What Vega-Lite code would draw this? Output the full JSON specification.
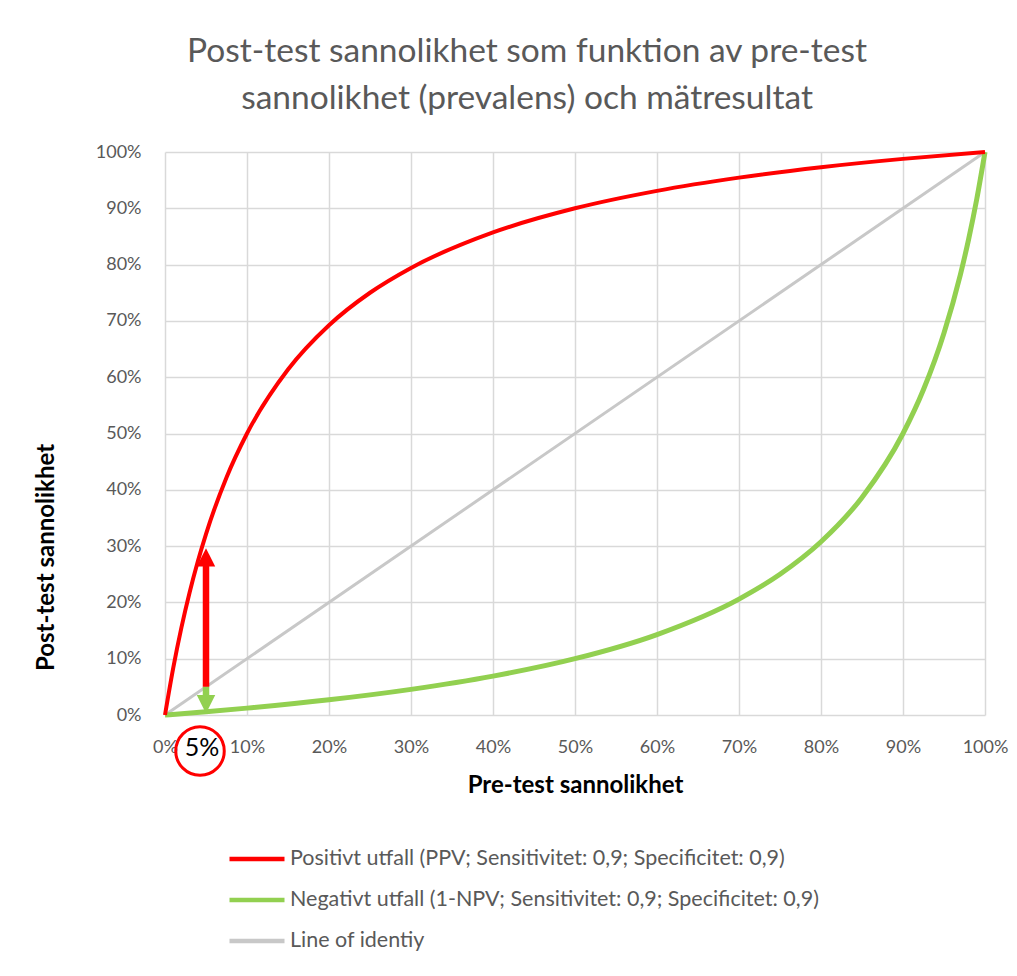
{
  "$schema": "https://vega.github.io/schema/vega-lite/v6.json",
  "width": 820,
  "height": 563,
  "autosize": "none",
  "padding": {"left": 165, "top": 152, "right": 32, "bottom": 261},
  "background": "white",
  "config": {
    "font": "Lato",
    "view": {"stroke": null}
  },
  "title": {
    "text": ["Post-test sannolikhet som funktion av pre-test", "sannolikhet (prevalens) och mätresultat"],
    "fontSize": 33.5,
    "fontWeight": "normal",
    "font": "Lato",
    "color": "#595959",
    "lineHeight": 47,
    "anchor": "middle",
    "dx": -48,
    "offset": 26
  },
  "datasets": {
    "curves": [
      {"p": 0, "v": 0, "serie": "Line of identiy"},
      {"p": 1, "v": 1, "serie": "Line of identiy"},
      {"p": 0, "v": 0, "serie": "Positivt utfall (PPV; Sensitivitet: 0,9; Specificitet: 0,9)"},
      {"p": 0.01, "v": 0.0833, "serie": "Positivt utfall (PPV; Sensitivitet: 0,9; Specificitet: 0,9)"},
      {"p": 0.02, "v": 0.1552, "serie": "Positivt utfall (PPV; Sensitivitet: 0,9; Specificitet: 0,9)"},
      {"p": 0.03, "v": 0.2177, "serie": "Positivt utfall (PPV; Sensitivitet: 0,9; Specificitet: 0,9)"},
      {"p": 0.04, "v": 0.2727, "serie": "Positivt utfall (PPV; Sensitivitet: 0,9; Specificitet: 0,9)"},
      {"p": 0.05, "v": 0.3214, "serie": "Positivt utfall (PPV; Sensitivitet: 0,9; Specificitet: 0,9)"},
      {"p": 0.075, "v": 0.4219, "serie": "Positivt utfall (PPV; Sensitivitet: 0,9; Specificitet: 0,9)"},
      {"p": 0.1, "v": 0.5, "serie": "Positivt utfall (PPV; Sensitivitet: 0,9; Specificitet: 0,9)"},
      {"p": 0.15, "v": 0.6136, "serie": "Positivt utfall (PPV; Sensitivitet: 0,9; Specificitet: 0,9)"},
      {"p": 0.2, "v": 0.6923, "serie": "Positivt utfall (PPV; Sensitivitet: 0,9; Specificitet: 0,9)"},
      {"p": 0.25, "v": 0.75, "serie": "Positivt utfall (PPV; Sensitivitet: 0,9; Specificitet: 0,9)"},
      {"p": 0.3, "v": 0.7941, "serie": "Positivt utfall (PPV; Sensitivitet: 0,9; Specificitet: 0,9)"},
      {"p": 0.4, "v": 0.8571, "serie": "Positivt utfall (PPV; Sensitivitet: 0,9; Specificitet: 0,9)"},
      {"p": 0.5, "v": 0.9, "serie": "Positivt utfall (PPV; Sensitivitet: 0,9; Specificitet: 0,9)"},
      {"p": 0.6, "v": 0.931, "serie": "Positivt utfall (PPV; Sensitivitet: 0,9; Specificitet: 0,9)"},
      {"p": 0.7, "v": 0.9545, "serie": "Positivt utfall (PPV; Sensitivitet: 0,9; Specificitet: 0,9)"},
      {"p": 0.8, "v": 0.973, "serie": "Positivt utfall (PPV; Sensitivitet: 0,9; Specificitet: 0,9)"},
      {"p": 0.9, "v": 0.9878, "serie": "Positivt utfall (PPV; Sensitivitet: 0,9; Specificitet: 0,9)"},
      {"p": 1, "v": 1, "serie": "Positivt utfall (PPV; Sensitivitet: 0,9; Specificitet: 0,9)"},
      {"p": 0, "v": 0, "serie": "Negativt utfall (1-NPV; Sensitivitet: 0,9; Specificitet: 0,9)"},
      {"p": 0.05, "v": 0.0058, "serie": "Negativt utfall (1-NPV; Sensitivitet: 0,9; Specificitet: 0,9)"},
      {"p": 0.1, "v": 0.0122, "serie": "Negativt utfall (1-NPV; Sensitivitet: 0,9; Specificitet: 0,9)"},
      {"p": 0.2, "v": 0.027, "serie": "Negativt utfall (1-NPV; Sensitivitet: 0,9; Specificitet: 0,9)"},
      {"p": 0.3, "v": 0.0455, "serie": "Negativt utfall (1-NPV; Sensitivitet: 0,9; Specificitet: 0,9)"},
      {"p": 0.4, "v": 0.069, "serie": "Negativt utfall (1-NPV; Sensitivitet: 0,9; Specificitet: 0,9)"},
      {"p": 0.5, "v": 0.1, "serie": "Negativt utfall (1-NPV; Sensitivitet: 0,9; Specificitet: 0,9)"},
      {"p": 0.6, "v": 0.1429, "serie": "Negativt utfall (1-NPV; Sensitivitet: 0,9; Specificitet: 0,9)"},
      {"p": 0.7, "v": 0.2059, "serie": "Negativt utfall (1-NPV; Sensitivitet: 0,9; Specificitet: 0,9)"},
      {"p": 0.75, "v": 0.25, "serie": "Negativt utfall (1-NPV; Sensitivitet: 0,9; Specificitet: 0,9)"},
      {"p": 0.8, "v": 0.3077, "serie": "Negativt utfall (1-NPV; Sensitivitet: 0,9; Specificitet: 0,9)"},
      {"p": 0.85, "v": 0.3864, "serie": "Negativt utfall (1-NPV; Sensitivitet: 0,9; Specificitet: 0,9)"},
      {"p": 0.9, "v": 0.5, "serie": "Negativt utfall (1-NPV; Sensitivitet: 0,9; Specificitet: 0,9)"},
      {"p": 0.925, "v": 0.5781, "serie": "Negativt utfall (1-NPV; Sensitivitet: 0,9; Specificitet: 0,9)"},
      {"p": 0.95, "v": 0.6786, "serie": "Negativt utfall (1-NPV; Sensitivitet: 0,9; Specificitet: 0,9)"},
      {"p": 0.97, "v": 0.7823, "serie": "Negativt utfall (1-NPV; Sensitivitet: 0,9; Specificitet: 0,9)"},
      {"p": 0.98, "v": 0.8448, "serie": "Negativt utfall (1-NPV; Sensitivitet: 0,9; Specificitet: 0,9)"},
      {"p": 0.99, "v": 0.9167, "serie": "Negativt utfall (1-NPV; Sensitivitet: 0,9; Specificitet: 0,9)"},
      {"p": 1, "v": 1, "serie": "Negativt utfall (1-NPV; Sensitivitet: 0,9; Specificitet: 0,9)"}
    ]
  },
  "data": {"name": "curves"},
  "encoding": {
    "x": {
      "field": "p",
      "type": "quantitative",
      "scale": {"domain": [0, 1], "nice": false, "zero": false},
      "axis": {
        "values": [0, 0.1, 0.2, 0.3, 0.4, 0.5, 0.6, 0.7, 0.8, 0.9, 1],
        "format": ".0%",
        "title": "Pre-test sannolikhet",
        "titleFontSize": 24,
        "titleFontWeight": "bold",
        "titleColor": "#000000",
        "titlePadding": 17,
        "labelFontSize": 18,
        "labelColor": "#595959",
        "labelPadding": 23,
        "labelFlush": false,
        "domain": false,
        "ticks": false,
        "grid": true,
        "gridColor": "#D9D9D9",
        "gridWidth": 1.5
      }
    },
    "y": {
      "field": "v",
      "type": "quantitative",
      "scale": {"domain": [0, 1], "nice": false, "zero": false},
      "axis": {
        "values": [0, 0.1, 0.2, 0.3, 0.4, 0.5, 0.6, 0.7, 0.8, 0.9, 1],
        "format": ".0%",
        "title": "Post-test sannolikhet",
        "titleFontSize": 24,
        "titleFontWeight": "bold",
        "titleColor": "#000000",
        "titleAngle": -90,
        "titleX": -119,
        "titleY": 405,
        "titleAlign": "center",
        "titleBaseline": "middle",
        "labelFontSize": 18,
        "labelColor": "#595959",
        "labelPadding": 24,
        "domain": false,
        "ticks": false,
        "grid": true,
        "gridColor": "#D9D9D9",
        "gridWidth": 1.5
      }
    },
    "color": {
      "field": "serie",
      "type": "nominal",
      "scale": {
        "domain": [
          "Positivt utfall (PPV; Sensitivitet: 0,9; Specificitet: 0,9)",
          "Negativt utfall (1-NPV; Sensitivitet: 0,9; Specificitet: 0,9)",
          "Line of identiy"
        ],
        "range": ["#FF0000", "#92D050", "#C8C8C8"]
      },
      "legend": {
        "title": null,
        "orient": "none",
        "legendX": 62,
        "legendY": 677,
        "symbolType": "stroke",
        "symbolSize": 3025,
        "symbolStrokeWidth": 4.5,
        "labelFontSize": 21.5,
        "labelColor": "#595959",
        "labelLimit": 800,
        "labelOffset": 3,
        "rowPadding": -10.5
      }
    }
  },
  "layer": [
    {
      "transform": [{"filter": "datum.serie === 'Line of identiy'"}],
      "mark": {"type": "line", "strokeWidth": 3, "interpolate": "linear"}
    },
    {
      "transform": [{"filter": "datum.serie === 'Negativt utfall (1-NPV; Sensitivitet: 0,9; Specificitet: 0,9)'"}],
      "mark": {"type": "line", "strokeWidth": 5, "interpolate": "monotone"}
    },
    {
      "transform": [{"filter": "datum.serie === 'Positivt utfall (PPV; Sensitivitet: 0,9; Specificitet: 0,9)'"}],
      "mark": {"type": "line", "strokeWidth": 4, "interpolate": "monotone"}
    },
    {
      "data": {"values": [{"p": 0.05, "v": 0.05, "v2": 0.27}]},
      "mark": {"type": "rule", "color": "#FF0000", "strokeWidth": 6.5},
      "encoding": {"y2": {"field": "v2"}, "color": null}
    },
    {
      "data": {"values": [{"p": 0.05, "v": 0.28}]},
      "mark": {"type": "point", "shape": "M0,-1L-1,1L1,1Z", "size": 340, "filled": true, "color": "#FF0000", "opacity": 1},
      "encoding": {"color": null}
    },
    {
      "data": {"values": [{"p": 0.05, "v": 0.05, "v2": 0.03}]},
      "mark": {"type": "rule", "color": "#92D050", "strokeWidth": 6.5},
      "encoding": {"y2": {"field": "v2"}, "color": null}
    },
    {
      "data": {"values": [{"p": 0.05, "v": 0.019}]},
      "mark": {"type": "point", "shape": "M0,1L-1,-1L1,-1Z", "size": 340, "filled": true, "color": "#92D050", "opacity": 1},
      "encoding": {"color": null}
    },
    {
      "data": {"values": [{"p": 0.0427, "v": -0.064, "label": "5%"}]},
      "mark": {"type": "point", "shape": "circle", "size": 2350, "filled": false, "color": "#FF0000", "strokeWidth": 3, "opacity": 1},
      "encoding": {"color": null}
    },
    {
      "data": {"values": [{"p": 0.045, "v": -0.058, "label": "5%"}]},
      "mark": {"type": "text", "fontSize": 25, "color": "#000000", "align": "center", "baseline": "middle", "font": "Lato"},
      "encoding": {"text": {"field": "label"}, "color": null}
    }
  ]
}
